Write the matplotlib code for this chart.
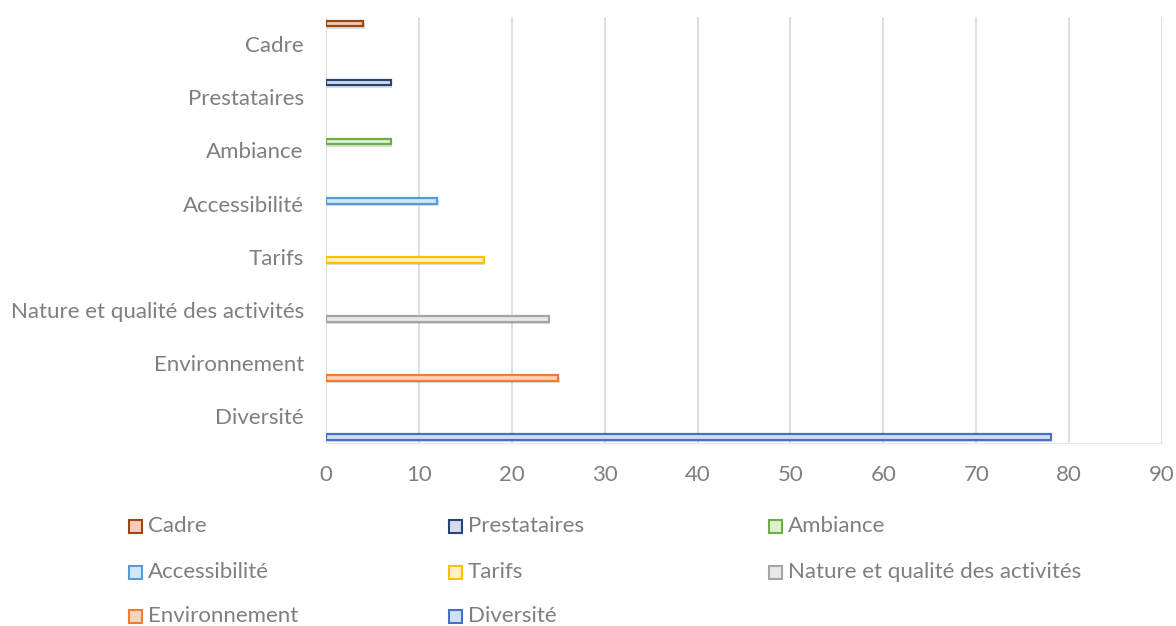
import matplotlib
matplotlib.use("Agg")
import matplotlib.pyplot as plt
from matplotlib.patches import Rectangle
import matplotlib.patheffects as pe

categories = ["Diversité", "Environnement", "Nature et qualité des activités", "Tarifs",
              "Accessibilité", "Ambiance", "Prestataires", "Cadre"]
values = [78, 25, 24, 17, 12, 7, 7, 4]
edge_colors = ["#4472c4", "#ed7d31", "#a5a5a5", "#ffc000", "#5b9bd5", "#70ad47", "#264478", "#9e480e"]
fill_colors = ["#d3def3", "#fad3bd", "#e8e8e8", "#fff3c4", "#d3e6f7", "#dcf1cc", "#d8dcea", "#f3cdbc"]
legend_order = ["Cadre", "Prestataires", "Ambiance", "Accessibilité", "Tarifs",
                "Nature et qualité des activités", "Environnement", "Diversité"]
xticks = list(range(0, 100, 10))

plt.rcParams['font.family'] = ['Lato', 'DejaVu Sans']
text_color = "#7f7f7f"
fs = 16

fig = plt.figure(figsize=(11.76, 6.26), dpi=100)
ax = fig.add_axes([326/1176, 183.2/626, 836/1176, 425.4/626])

n = len(categories)
slot = 0.11
shadow = [pe.SimplePatchShadow(offset=(1, -1.5), shadow_rgbFace="#000000", alpha=0.13), pe.Normal()]
for i, (cat, v) in enumerate(zip(categories, values)):
    y = i - slot * n / 2 + slot * (i + 0.5)
    ax.barh(y, v, height=slot, color=fill_colors[i], edgecolor=edge_colors[i],
            linewidth=1.6, zorder=3, path_effects=shadow)

ax.set_xlim(0, 90)
ax.set_ylim(-0.5, n - 0.5)
ax.set_xticks(xticks)
ax.set_yticks(range(n))
ax.set_yticklabels(categories)
ax.grid(axis='x', color="#d9d9d9", linewidth=1.2, zorder=0)
for s in ["top", "right", "left"]:
    ax.spines[s].set_visible(False)
ax.spines["bottom"].set_color("#e6e6e6")
ax.tick_params(axis='both', length=0, colors=text_color, labelsize=fs)
ax.tick_params(axis='x', pad=16)
ax.tick_params(axis='y', pad=16)

# legend
col_x = [135, 455, 775]
row_y = [526, 572, 616]
for k, name in enumerate(legend_order):
    idx = categories.index(name)
    r, c = divmod(k, 3)
    x0 = col_x[c] / 1176
    yc = 1 - row_y[r] / 626
    w = 13 / 1176
    h = 13 / 626
    fig.add_artist(Rectangle((x0 - w / 2, yc - h / 2), w, h, transform=fig.transFigure,
                             facecolor=fill_colors[idx], edgecolor=edge_colors[idx], linewidth=1.5))
    fig.text(x0 + 13 / 1176, yc, name, ha='left', va='center', color=text_color, fontsize=fs)

fig.savefig("out.png", dpi=100)
